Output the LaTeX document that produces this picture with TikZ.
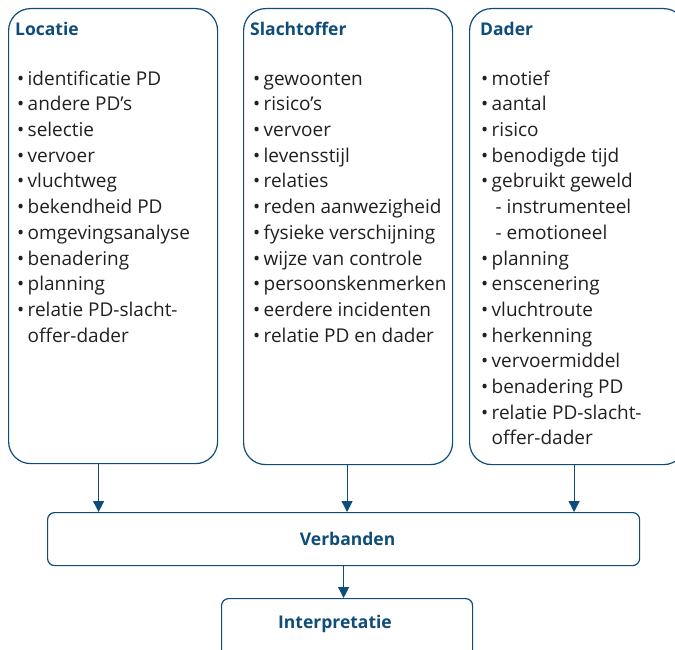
\documentclass[tikz,border=0pt]{standalone}
\usepackage{fontspec}
\setmainfont{Open Sans}
\usetikzlibrary{arrows.meta}
\definecolor{navy}{RGB}{14,76,122}
\definecolor{ink}{RGB}{35,31,32}
\begin{document}
\begin{tikzpicture}[x=1pt,y=-1pt,
  panel/.style={draw=navy,line width=1.2pt,rounded corners=22pt},
  flat/.style={draw=navy,line width=1.2pt,rounded corners=7pt},
  head/.style={anchor=base west,inner sep=0pt,text=navy,font=\fontsize{17.5}{20}\selectfont\bfseries},
  label/.style={inner sep=0pt,text=navy,font=\fontsize{17.5}{20}\selectfont\bfseries},
  list/.style={anchor=north west,inner sep=0pt,text=ink,align=left,
    font=\fontsize{19}{25.7}\selectfont},
  arr/.style={draw=navy,line width=1.1pt,-{Triangle[width=11pt,length=11pt]}}]
\useasboundingbox (0,0) rectangle (675,650);
\begin{scope}
\clip (0,0) rectangle (675,650);
% three column panels
\node[panel,minimum width=209pt,minimum height=455pt,anchor=north west] (loc) at (8,8) {};
\node[panel,minimum width=209pt,minimum height=456pt,anchor=north west] (slo) at (243,8) {};
\node[panel,minimum width=216pt,minimum height=456pt,anchor=north west] (dad) at (469,8) {};
% lower boxes
\node[flat,minimum width=592pt,minimum height=53pt,anchor=north west] (verb) at (47,512) {};
\node[flat,minimum width=251pt,minimum height=70pt,anchor=north west] (interp) at (221,598) {};
\end{scope}
% headings
\node[head] (locH) at (15,36) {Locatie};
\node[head] (sloH) at (250,36) {Slachtoffer};
\node[head] (dadH) at (480,36) {Dader};
% item lists (a strut on the first line fixes the top; baseline at 85)
\newcommand{\bl}{\makebox[10.5pt][l]{•}}
\newcommand{\ind}{\hspace*{10.5pt}}
\node[list] (locL) at (17,67) {\strut\bl identificatie PD\\ \bl andere PD’s\\ \bl selectie\\ \bl vervoer\\
  \bl vluchtweg\\ \bl bekendheid PD\\ \bl omgevingsanalyse\\ \bl benadering\\ \bl planning\\
  \bl relatie PD-slacht-\\ \ind offer-dader};
\node[list] (sloL) at (253,67) {\strut\bl gewoonten\\ \bl risico’s\\ \bl vervoer\\ \bl levensstijl\\
  \bl relaties\\ \bl reden aanwezigheid\\ \bl fysieke verschijning\\ \bl wijze van controle\\
  \bl persoonskenmerken\\ \bl eerdere incidenten\\ \bl relatie PD en dader};
\node[list] (dadL) at (481,67) {\strut\bl motief\\ \bl aantal\\ \bl risico\\ \bl benodigde tijd\\
  \bl gebruikt geweld\\ \ind\hspace*{4pt}- instrumenteel\\ \ind\hspace*{4pt}- emotioneel\\
  \bl planning\\ \bl enscenering\\ \bl vluchtroute\\ \bl herkenning\\ \bl vervoermiddel\\
  \bl benadering PD\\ \bl relatie PD-slacht-\\ \ind offer-dader};
% box labels
\node[label] (verbT) at ([xshift=4pt]verb.center) {Verbanden};
\node[label] (interpT) at (335,624) {Interpretatie};
% connectors
\draw[arr] ([xshift=-14.5pt]loc.south) -- ([xshift=-14.5pt]loc.south |- verb.north);
\draw[arr] ([xshift=-1pt]slo.south) -- ([xshift=-1pt]slo.south |- verb.north);
\draw[arr] ([xshift=-3.5pt]dad.south) -- ([xshift=-3.5pt]dad.south |- verb.north);
\draw[arr] (verb.south) -- (verb.south |- interp.north);
\end{tikzpicture}
\end{document}
